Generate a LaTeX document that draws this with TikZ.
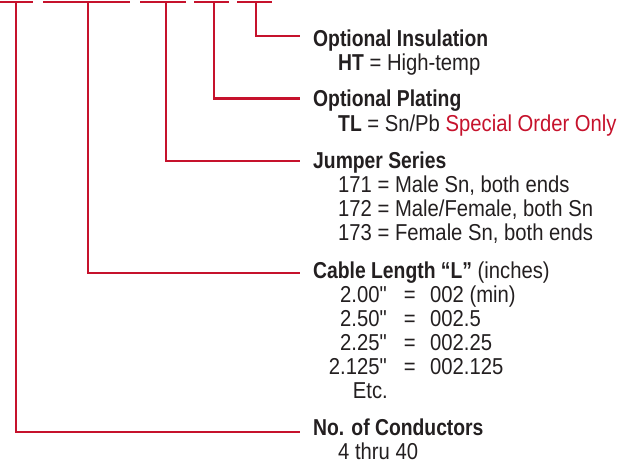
\documentclass[tikz,border=0pt]{standalone}
\usepackage{fontspec}
\setmainfont[Ligatures=TeXOff,FakeStretch=0.88,BoldFeatures={FakeStretch=0.84}]{Liberation Sans}
\definecolor{pnred}{RGB}{198,18,44}
\definecolor{pntext}{RGB}{35,31,32}
\begin{document}
\begin{tikzpicture}[x=1pt,y=-1pt,
  redline/.style={draw=pnred,line width=2.7pt,line cap=butt,line join=miter},
  txt/.style={inner sep=0pt,anchor=base west,text=pntext,font=\fontsize{23}{25}\selectfont},
  head/.style={txt,font=\fontsize{23}{25}\selectfont\bfseries},
  lval/.style={txt,anchor=base east},
  eqs/.style={txt,anchor=base}]
\useasboundingbox (0,0) rectangle (629,463);
% top blanks
\coordinate (b1a) at (0,2);   \coordinate (b1b) at (33,2);
\coordinate (b2a) at (43,2);  \coordinate (b2b) at (130,2);
\coordinate (b3a) at (140,2); \coordinate (b3b) at (186,2);
\coordinate (b4a) at (194,2); \coordinate (b4b) at (229,2);
\coordinate (b5a) at (237,2); \coordinate (b5b) at (272,2);
\draw[redline] (b1a) -- (b1b);
\draw[redline] (b2a) -- (b2b);
\draw[redline] (b3a) -- (b3b);
\draw[redline] (b4a) -- (b4b);
\draw[redline] (b5a) -- (b5b);
% drop points
\coordinate (d1) at (16,2);
\coordinate (d2) at (88,2);
\coordinate (d3) at (166,2);
\coordinate (d4) at (214,2);
\coordinate (d5) at (256,2);
% line ends
\coordinate (e1) at (300,432);
\coordinate (e2) at (300,273);
\coordinate (e3) at (300,161);
\coordinate (e4) at (300,98.3);
\coordinate (e5) at (300,36);
\draw[redline] (d1) |- (e1);
\draw[redline] (d2) |- (e2);
\draw[redline] (d3) |- (e3);
\draw[redline] (d4) |- (e4);
\draw[redline] (d5) |- (e5);
% Optional Insulation
\node[head] (ins) at (313,46.7) {Optional Insulation};
\node[txt] (insht) at (338,70.5) {\textbf{HT} = High-temp};
% Optional Plating
\node[head] (pla) at (313,106.8) {Optional Plating};
\node[txt] (platl) at (338,131.5) {\textbf{TL} = Sn/Pb \textcolor{pnred}{Special Order Only}};
% Jumper Series
\node[head] (jum) at (313,168) {Jumper Series};
\node[txt] (j171) at (338,192) {171 = Male Sn, both ends};
\node[txt] (j172) at (338,216) {172 = Male/Female, both Sn};
\node[txt] (j173) at (338,240) {173 = Female Sn, both ends};
% Cable Length
\node[head] (cab) at (313,278) {Cable Length “L”\mdseries\ (inches)};
\node[lval] (l1) at (387,302.7) {2.00"};
\node[eqs]  (q1) at (409.7,302.7) {=};
\node[txt]  (r1) at (430,302.7) {002 (min)};
\node[lval] (l2) at (387,326.7) {2.50"};
\node[eqs]  (q2) at (409.7,326.7) {=};
\node[txt]  (r2) at (430,326.7) {002.5};
\node[lval] (l3) at (387,350.7) {2.25"};
\node[eqs]  (q3) at (409.7,350.7) {=};
\node[txt]  (r3) at (430,350.7) {002.25};
\node[lval] (l4) at (387,374.7) {2.125"};
\node[eqs]  (q4) at (409.7,374.7) {=};
\node[txt]  (r4) at (430,374.7) {002.125};
\node[txt]  (etc) at (352.7,398.5) {Etc.};
% No. of Conductors
\node[head] (con) at (313,435.5) {No. of Conductors};
\node[txt] (c440) at (338,459) {4 thru 40};
\end{tikzpicture}
\end{document}
